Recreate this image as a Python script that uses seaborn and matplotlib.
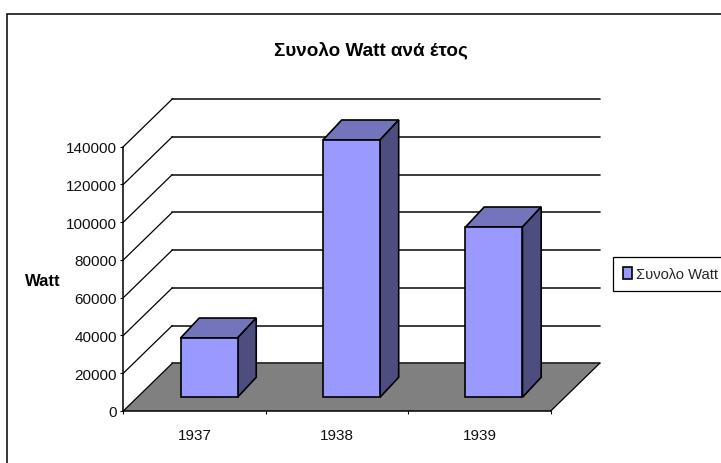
import matplotlib
matplotlib.use("Agg")
import matplotlib.pyplot as plt
from matplotlib.patches import Polygon, Rectangle
from matplotlib.transforms import IdentityTransform, offset_copy
import pandas as pd
import seaborn as sns

# Data
years = ["1937", "1938", "1939"]
watts = [31400, 136300, 90200]
y_ticks = [0, 20000, 40000, 60000, 80000, 100000, 120000, 140000]
title = "Συνολο Watt ανά έτος"
series_name = "Συνολο Watt"
y_label = "Watt"

sns.set_theme(style="white")
plt.rcParams["font.family"] = ["Liberation Sans", "DejaVu Sans"]

W, H = 721, 464
fig = plt.figure(figsize=(W / 100, H / 100), dpi=100)
ax = fig.add_axes([123.3 / W, (H - 412) / H, 427.4 / W, 264.3 / H])
ax.patch.set_alpha(0)

df = pd.DataFrame({"year": years, "watt": watts})
sns.barplot(data=df, x="year", y="watt", ax=ax, width=0.4, color="#9999FF",
            saturation=1, edgecolor="black", linewidth=1.2, label=series_name, legend=False, zorder=5)
ax.set_xlim(-0.5, 2.5)
ax.set_ylim(0, 140000)

# 3D look: the wall is the front plane pushed back by a fixed pixel offset
back = offset_copy(ax.transData, fig, x=49, y=47.7, units="dots")
bar_shift = offset_copy(ax.transData, fig, x=14.5, y=13.7, units="dots")
depth_x, depth_y = 18.7, 20

x0, x1 = ax.get_xlim()
front_pts = ax.transData.transform([(x0, 0), (x1, 0)])
back_pts = back.transform([(x0, 0), (x1, 0)])
ax.add_patch(Polygon([front_pts[0], front_pts[1], back_pts[1], back_pts[0]], closed=True,
                     transform=IdentityTransform(), facecolor="#808080", edgecolor="none",
                     zorder=1, clip_on=False))

for v in y_ticks:
    ax.plot([x0, x1], [v, v], transform=back, color="#1a1a1a", lw=1.2, zorder=2, clip_on=False)
    a = ax.transData.transform((x0, v))
    b = back.transform((x0, v))
    ax.plot([a[0], b[0]], [a[1], b[1]], transform=IdentityTransform(), color="black", lw=0.9,
            zorder=2, clip_on=False)
ax.plot([front_pts[1][0], back_pts[1][0]], [front_pts[1][1], back_pts[1][1]],
        transform=IdentityTransform(), color="black", lw=0.9, zorder=2, clip_on=False)

for p in list(ax.patches):
    if not isinstance(p, Rectangle):
        continue
    p.set_transform(bar_shift)
    p.set_clip_on(False)
    x, w, h = p.get_x(), p.get_width(), p.get_height()
    bl, br, tr, tl = bar_shift.transform([(x, 0), (x + w, 0), (x + w, h), (x, h)])
    d = (depth_x, depth_y)
    ax.add_patch(Polygon([tl, tr, tr + d, tl + d], closed=True, transform=IdentityTransform(),
                         facecolor="#7474BC", edgecolor="black", lw=1.2, zorder=4, clip_on=False))
    ax.add_patch(Polygon([br, tr, tr + d, br + d], closed=True, transform=IdentityTransform(),
                         facecolor="#4D4D80", edgecolor="black", lw=1.2, zorder=4, clip_on=False))

# Axes
sns.despine(ax=ax, top=True, right=True)
for s in ["left", "bottom"]:
    ax.spines[s].set_color("black")
    ax.spines[s].set_linewidth(1.1)
    ax.spines[s].set_zorder(3)
ax.set_yticks(y_ticks)
ax.set_yticklabels([str(v) for v in y_ticks], fontsize=11, color="#111111")
ax.tick_params(axis="y", left=True, length=2, width=0.8, pad=2.75, color="black")
ax.set_xticks([-0.5, 0.5, 1.5, 2.5], minor=True)
ax.tick_params(axis="x", which="minor", bottom=True, length=2, width=0.8, color="black")
ax.tick_params(axis="x", which="major", bottom=False, pad=6, labelsize=11, labelcolor="#111111")
ax.set_xlabel("")
ax.set_ylabel("")

fig.text(43 / W, 1 - 281 / H, y_label, ha="center", va="center", fontsize=12, fontweight="bold", color="black")
fig.text(371 / W, 1 - 50 / H, title, ha="center", va="center", fontsize=13.6, fontweight="bold", color="black")

# Legend box runs off the right edge of the picture, the label stays inside
handles, labels = ax.get_legend_handles_labels()
leg = ax.legend(handles[:1], labels[:1], loc="upper left", bbox_to_anchor=(612.7 / W, 1 - 258 / H),
                bbox_transform=fig.transFigure, fontsize=10.6, fancybox=False, framealpha=1,
                edgecolor="black", borderaxespad=0, handlelength=0.6, handleheight=0.8,
                handletextpad=0.3, borderpad=0.68)
leg.get_frame().set_linewidth(0.9)

# Outer chart frame, runs off the right and bottom of the image
fig.add_artist(Rectangle((7.3 / W, -0.1), 1, 1.1 - 15 / H, transform=fig.transFigure,
                         facecolor="none", edgecolor="black", lw=1.1))

fig.savefig("out.png")
